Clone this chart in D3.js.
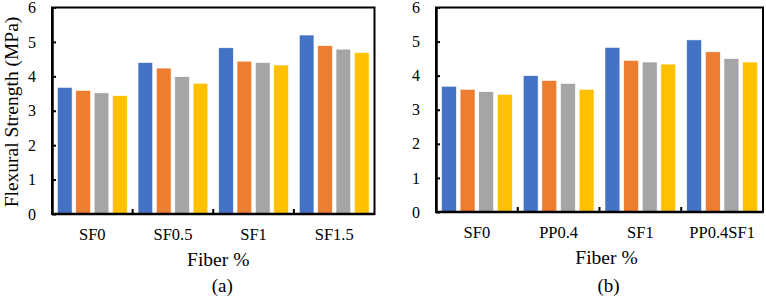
<!DOCTYPE html>
<html>
<head>
<meta charset="utf-8">
<script src="https://cdn.jsdelivr.net/npm/d3@7/dist/d3.min.js"></script>
<style>
  html, body { margin: 0; padding: 0; background: #fff; }
  svg { display: block; }
  text { font-family: "Liberation Serif", "Times New Roman", serif; fill: #000; }
</style>
</head>
<body>
<svg id="chart" width="766" height="301"></svg>
<script>
// ---- Data ----
const seriesNames = ["Series 1", "Series 2", "Series 3", "Series 4"];
const seriesColors = ["#4472C4", "#ED7D31", "#A5A5A5", "#FFC000"];
const yTicks = [0, 1, 2, 3, 4, 5, 6];

const categoriesA = ["SF0", "SF0.5", "SF1", "SF1.5"];
const seriesA1 = [3.68, 4.40, 4.83, 5.20];
const seriesA2 = [3.59, 4.24, 4.44, 4.89];
const seriesA3 = [3.52, 3.99, 4.40, 4.79];
const seriesA4 = [3.44, 3.80, 4.33, 4.69];

const categoriesB = ["SF0", "PP0.4", "SF1", "PP0.4SF1"];
const seriesB1 = [3.69, 4.00, 4.83, 5.05];
const seriesB2 = [3.60, 3.86, 4.45, 4.70];
const seriesB3 = [3.53, 3.77, 4.40, 4.50];
const seriesB4 = [3.45, 3.60, 4.34, 4.40];

const xTitle = "Fiber %";
const yTitle = "Flexural Strength (MPa)";

// ---- Drawing ----
const svg = d3.select("#chart");

function drawPanel(cfg) {
  const { left, right, top, bottom, categories, series, label } = cfg;
  const g = svg.append("g");

  const y = d3.scaleLinear().domain([0, 6]).range([bottom, top]);
  const x0 = d3.scaleBand().domain(categories).range([left, right]).padding(0);
  const bw = x0.bandwidth();
  const x1 = d3.scaleBand().domain(seriesNames)
    .range([bw * 0.067, bw * 0.933]).paddingInner(0.2).paddingOuter(0);

  // bars
  const groups = g.selectAll("g.cat").data(categories).enter().append("g")
    .attr("class", "cat")
    .attr("transform", c => `translate(${x0(c)},0)`);
  groups.selectAll("rect").data((c, i) => series.map((s, k) => ({ name: seriesNames[k], v: s[i], k })))
    .enter().append("rect")
    .attr("x", d => x1(d.name))
    .attr("width", x1.bandwidth())
    .attr("y", d => y(d.v))
    .attr("height", d => y(0) - y(d.v))
    .attr("fill", d => seriesColors[d.k])
    .attr("stroke", "#fff")
    .attr("stroke-width", 0.6);

  // border (top/right)
  g.append("rect")
    .attr("x", left).attr("y", top)
    .attr("width", right - left).attr("height", bottom - top)
    .attr("fill", "none").attr("stroke", "#000").attr("stroke-width", 2);

  // y axis
  const ya = g.append("g").attr("transform", `translate(${left},0)`)
    .call(d3.axisLeft(y).tickValues(yTicks).tickFormat(d3.format("d"))
      .tickSizeInner(-4).tickSizeOuter(0).tickPadding(16));
  ya.select(".domain").attr("stroke", "#000").attr("stroke-width", 2.5);
  ya.selectAll(".tick line").attr("stroke", "#000").attr("stroke-width", 2);
  ya.selectAll(".tick text").style("font-size", "16px")
    .style("font-family", "'Liberation Serif', 'Times New Roman', serif");

  // x axis labels
  const xa = g.append("g").attr("transform", `translate(0,${bottom})`)
    .call(d3.axisBottom(x0).tickSize(0).tickPadding(14.5));
  xa.select(".domain").remove();
  xa.selectAll(".tick text").style("font-size", "16.5px")
    .style("font-family", "'Liberation Serif', 'Times New Roman', serif");

  // baseline and boundary ticks
  g.append("line").attr("x1", left).attr("x2", right)
    .attr("y1", bottom).attr("y2", bottom)
    .attr("stroke", "#000").attr("stroke-width", 2.5);
  g.selectAll("line.bt").data(categories.slice(1)).enter().append("line")
    .attr("class", "bt")
    .attr("x1", c => x0(c)).attr("x2", c => x0(c))
    .attr("y1", bottom).attr("y2", bottom - 5)
    .attr("stroke", "#000").attr("stroke-width", 2);

  // x title
  const cx = (left + right) / 2;
  g.append("text").attr("x", cx + cfg.titleShift).attr("y", bottom + 52)
    .attr("text-anchor", "middle").style("font-size", "19.5px").text(xTitle);
  g.append("text").attr("x", cx + cfg.labelShift).attr("y", 292)
    .attr("text-anchor", "middle").style("font-size", "19px").text(label);
  return { y, x0 };
}

drawPanel({
  left: 52, right: 374.5, top: 7.5, bottom: 214,
  categories: categoriesA,
  series: [seriesA1, seriesA2, seriesA3, seriesA4],
  label: "(a)", titleShift: 5, labelShift: 9
});
drawPanel({
  left: 436, right: 763, top: 7.5, bottom: 212,
  categories: categoriesB,
  series: [seriesB1, seriesB2, seriesB3, seriesB4],
  label: "(b)", titleShift: 7, labelShift: 9
});

// y title
svg.append("text")
  .attr("transform", "translate(17.5,112) rotate(-90)")
  .attr("text-anchor", "middle")
  .style("font-size", "19.5px")
  .text(yTitle);
</script>
</body>
</html>
